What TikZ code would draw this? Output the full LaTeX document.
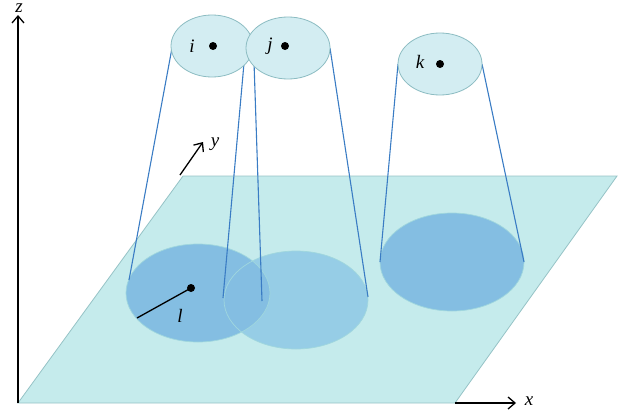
\documentclass[tikz,border=0pt]{standalone}
\usepackage{fontspec}
\setmainfont{Liberation Serif}
\usetikzlibrary{arrows.meta}
\definecolor{planefill}{RGB}{197,235,236}
\definecolor{planeedge}{RGB}{150,195,198}
\definecolor{topfill}{RGB}{211,237,242}
\definecolor{topedge}{RGB}{140,188,194}
\definecolor{discA}{RGB}{132,190,226}
\definecolor{discB}{RGB}{150,205,230}
\definecolor{discedge}{RGB}{160,215,222}
\definecolor{ray}{RGB}{58,124,196}
\begin{document}
\begin{tikzpicture}[x=1pt,y=-1pt,
  lbl/.style={font=\fontsize{19}{21}\selectfont\itshape},
  axis/.style={line width=1.3pt,-{Straight Barb[length=7pt,width=12pt,line width=1.3pt]}},
  topell/.style={fill=topfill,draw=topedge,line width=0.8pt},
  raypath/.style={draw=ray,line width=1.1pt},
  dot/.style={circle,fill=black,inner sep=0pt,minimum size=8pt}]
\useasboundingbox (0,0) rectangle (628,415);
% plane
\coordinate (p1) at (18,403);
\coordinate (p2) at (455,403);
\coordinate (p3) at (617,176);
\coordinate (p4) at (183,176);
\fill[planefill] (p1) -- (p2) -- (p3) -- (p4) -- cycle;
\draw[planeedge,line width=0.8pt] (p1) -- (p2) -- (p3) -- (p4) -- cycle;
% axes
\coordinate (zend) at (18,15);
\coordinate (xend) at (516,403);
\coordinate (ystart) at (180,175);
\coordinate (yend) at (203,142);
\draw[axis] (p1) -- (zend);
\draw[axis] (p2) -- (xend);
\draw[axis] (ystart) -- (yend);
\node[lbl,inner sep=0pt] (zl) at (19,8.5) {z};
\node[lbl] (xl) at (529,401) {x};
\node[lbl] (yl) at (215,144) {y};
% discs on the plane
\fill[discB] (296,300) ellipse [x radius=72,y radius=49];
\fill[discA] (198,293) ellipse [x radius=72,y radius=49];
\draw[discedge,line width=0.7pt] (198,293) ellipse [x radius=72,y radius=49];
\draw[discedge,line width=0.7pt] (296,300) ellipse [x radius=72,y radius=49];
\fill[discA] (452,262) ellipse [x radius=72,y radius=49];
\draw[discedge,line width=0.7pt] (452,262) ellipse [x radius=72,y radius=49];
% rays
\coordinate (ia) at (172,48);  \coordinate (ib) at (129,280);
\coordinate (ic) at (245,52);  \coordinate (id) at (223,298);
\coordinate (ja) at (254,62);  \coordinate (jb) at (262,301);
\coordinate (jc) at (330,48);  \coordinate (jd) at (368,297);
\coordinate (ka) at (398,64);  \coordinate (kb) at (380,262);
\coordinate (kc) at (482,64);  \coordinate (kd) at (524,262);
\draw[raypath] (ia) -- (ib);
\draw[raypath] (ic) -- (id);
\draw[raypath] (ja) -- (jb);
\draw[raypath] (jc) -- (jd);
\draw[raypath] (ka) -- (kb);
\draw[raypath] (kc) -- (kd);
% top ellipses
\draw[topell] (212,46) ellipse [x radius=41,y radius=31];
\draw[topell] (288,48) ellipse [x radius=42,y radius=31];
\draw[topell] (440,64) ellipse [x radius=42,y radius=31];
\node[dot] (di) at (213,46) {};
\node[dot] (dj) at (285,46) {};
\node[dot] (dk) at (440,64) {};
\node[lbl] (li) at (192,46) {i};
\node[lbl] (lj) at (270,46) {j};
\node[lbl] (lk) at (420,62) {k};
% radius l
\node[dot] (dl) at (191,288) {};
\coordinate (le) at (137,318);
\draw[line width=1.3pt] (dl.center) -- (le);
\node[lbl] (ll) at (180,316) {l};
\end{tikzpicture}
\end{document}
